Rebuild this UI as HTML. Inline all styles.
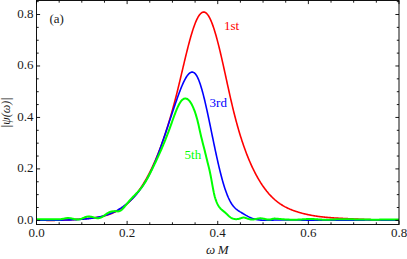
<!DOCTYPE html>
<html><head><meta charset="utf-8"><style>html,body{margin:0;padding:0;background:#fff;}.t,.t text{font-family:"Liberation Serif",serif;}body{width:407px;height:259px;overflow:hidden;position:relative;font-family:"Liberation Serif",serif;}</style></head><body>
<svg width="407" height="259" viewBox="0 0 407 259" style="position:absolute;left:0;top:0">
<rect x="0" y="0" width="407" height="259" fill="#fff"/>
<path d="M36.50,220.06 L36.95,220.08 L37.41,220.10 L37.86,220.11 L38.31,220.13 L38.77,220.15 L39.22,220.16 L39.68,220.18 L40.13,220.19 L40.58,220.21 L41.04,220.22 L41.49,220.23 L41.94,220.25 L42.40,220.26 L42.85,220.27 L43.31,220.28 L43.76,220.29 L44.21,220.30 L44.67,220.30 L45.12,220.31 L45.57,220.32 L46.03,220.32 L46.48,220.33 L46.93,220.34 L47.39,220.34 L47.84,220.34 L48.30,220.35 L48.75,220.35 L49.20,220.35 L49.66,220.35 L50.11,220.35 L50.56,220.35 L51.02,220.35 L51.47,220.35 L51.93,220.35 L52.38,220.35 L52.83,220.34 L53.29,220.34 L53.74,220.34 L54.19,220.33 L54.65,220.33 L55.10,220.32 L55.56,220.32 L56.01,220.31 L56.46,220.30 L56.92,220.29 L57.37,220.28 L57.82,220.27 L58.28,220.26 L58.73,220.25 L59.18,220.24 L59.64,220.23 L60.09,220.22 L60.55,220.21 L61.00,220.19 L61.45,220.18 L61.91,220.17 L62.36,220.15 L62.81,220.13 L63.27,220.12 L63.72,220.10 L64.18,220.08 L64.63,220.07 L65.08,220.05 L65.54,220.03 L65.99,220.01 L66.44,219.99 L66.90,219.97 L67.35,219.95 L67.80,219.93 L68.26,219.91 L68.71,219.88 L69.17,219.86 L69.62,219.84 L70.07,219.81 L70.53,219.79 L70.98,219.76 L71.43,219.74 L71.89,219.71 L72.34,219.68 L72.80,219.66 L73.25,219.63 L73.70,219.60 L74.16,219.57 L74.61,219.54 L75.06,219.51 L75.52,219.48 L75.97,219.45 L76.42,219.42 L76.88,219.39 L77.33,219.36 L77.79,219.32 L78.24,219.29 L78.69,219.25 L79.15,219.22 L79.60,219.19 L80.05,219.15 L80.51,219.11 L80.96,219.08 L81.42,219.04 L81.87,219.00 L82.32,218.97 L82.78,218.93 L83.23,218.89 L83.68,218.85 L84.14,218.81 L84.59,218.77 L85.05,218.73 L85.50,218.69 L85.95,218.65 L86.41,218.61 L86.86,218.56 L87.31,218.52 L87.77,218.48 L88.22,218.43 L88.67,218.39 L89.13,218.34 L89.58,218.30 L90.04,218.25 L90.49,218.20 L90.94,218.15 L91.40,218.10 L91.85,218.05 L92.30,218.00 L92.76,217.95 L93.21,217.89 L93.67,217.84 L94.12,217.78 L94.57,217.72 L95.03,217.66 L95.48,217.59 L95.93,217.53 L96.39,217.46 L96.84,217.39 L97.29,217.32 L97.75,217.25 L98.20,217.17 L98.66,217.09 L99.11,217.01 L99.56,216.93 L100.02,216.84 L100.47,216.75 L100.92,216.66 L101.38,216.57 L101.83,216.47 L102.29,216.37 L102.74,216.26 L103.19,216.16 L103.65,216.05 L104.10,215.93 L104.55,215.81 L105.01,215.69 L105.46,215.57 L105.91,215.44 L106.37,215.31 L106.82,215.17 L107.28,215.03 L107.73,214.89 L108.18,214.74 L108.64,214.59 L109.09,214.43 L109.54,214.27 L110.00,214.10 L110.45,213.93 L110.91,213.76 L111.36,213.58 L111.81,213.39 L112.27,213.20 L112.72,213.01 L113.17,212.81 L113.63,212.60 L114.08,212.39 L114.54,212.18 L114.99,211.96 L115.44,211.73 L115.90,211.50 L116.35,211.26 L116.80,211.02 L117.26,210.77 L117.71,210.51 L118.16,210.25 L118.62,209.98 L119.07,209.71 L119.53,209.43 L119.98,209.15 L120.43,208.85 L120.89,208.55 L121.34,208.25 L121.79,207.94 L122.25,207.62 L122.70,207.29 L123.16,206.96 L123.61,206.62 L124.06,206.27 L124.52,205.92 L124.97,205.56 L125.42,205.19 L125.88,204.82 L126.33,204.43 L126.78,204.04 L127.24,203.64 L127.69,203.24 L128.15,202.82 L128.60,202.40 L129.05,201.97 L129.51,201.53 L129.96,201.09 L130.41,200.63 L130.87,200.17 L131.32,199.70 L131.78,199.22 L132.23,198.73 L132.68,198.24 L133.14,197.73 L133.59,197.22 L134.04,196.69 L134.50,196.16 L134.95,195.62 L135.40,195.07 L135.86,194.51 L136.31,193.94 L136.77,193.36 L137.22,192.78 L137.67,192.18 L138.13,191.57 L138.58,190.95 L139.03,190.33 L139.49,189.69 L139.94,189.04 L140.40,188.38 L140.85,187.72 L141.30,187.04 L141.76,186.35 L142.21,185.65 L142.66,184.94 L143.12,184.22 L143.57,183.48 L144.03,182.74 L144.48,181.99 L144.93,181.22 L145.39,180.44 L145.84,179.66 L146.29,178.86 L146.75,178.04 L147.20,177.22 L147.65,176.39 L148.11,175.54 L148.56,174.68 L149.02,173.81 L149.47,172.93 L149.92,172.03 L150.38,171.12 L150.83,170.20 L151.28,169.27 L151.74,168.32 L152.19,167.36 L152.65,166.39 L153.10,165.41 L153.55,164.41 L154.01,163.40 L154.46,162.38 L154.91,161.34 L155.37,160.29 L155.82,159.22 L156.27,158.14 L156.73,157.05 L157.18,155.95 L157.64,154.83 L158.09,153.69 L158.54,152.55 L159.00,151.38 L159.45,150.21 L159.90,149.02 L160.36,147.81 L160.81,146.59 L161.27,145.36 L161.72,144.11 L162.17,142.84 L162.63,141.56 L163.08,140.27 L163.53,138.96 L163.99,137.63 L164.44,136.29 L164.89,134.93 L165.35,133.56 L165.80,132.17 L166.26,130.77 L166.71,129.35 L167.16,127.92 L167.62,126.46 L168.07,125.00 L168.52,123.51 L168.98,122.01 L169.43,120.49 L169.89,118.96 L170.34,117.41 L170.79,115.84 L171.25,114.26 L171.70,112.66 L172.15,111.04 L172.61,109.41 L173.06,107.75 L173.52,106.08 L173.97,104.40 L174.42,102.69 L174.88,100.97 L175.33,99.23 L175.78,97.47 L176.24,95.69 L176.69,93.90 L177.14,92.09 L177.60,90.26 L178.05,88.41 L178.51,86.54 L178.96,84.66 L179.41,82.77 L179.87,80.87 L180.32,78.96 L180.77,77.04 L181.23,75.12 L181.68,73.19 L182.14,71.27 L182.59,69.34 L183.04,67.42 L183.50,65.50 L183.95,63.58 L184.40,61.67 L184.86,59.78 L185.31,57.89 L185.76,56.02 L186.22,54.16 L186.67,52.32 L187.13,50.50 L187.58,48.70 L188.03,46.92 L188.49,45.17 L188.94,43.44 L189.39,41.74 L189.85,40.07 L190.30,38.44 L190.76,36.83 L191.21,35.26 L191.66,33.73 L192.12,32.24 L192.57,30.79 L193.02,29.38 L193.48,28.01 L193.93,26.70 L194.38,25.43 L194.84,24.21 L195.29,23.04 L195.75,21.93 L196.20,20.87 L196.65,19.87 L197.11,18.92 L197.56,18.04 L198.01,17.21 L198.47,16.44 L198.92,15.73 L199.38,15.08 L199.83,14.50 L200.28,13.97 L200.74,13.51 L201.19,13.11 L201.64,12.77 L202.10,12.50 L202.55,12.30 L203.01,12.16 L203.46,12.08 L203.91,12.07 L204.37,12.14 L204.82,12.26 L205.27,12.46 L205.73,12.73 L206.18,13.07 L206.63,13.47 L207.09,13.95 L207.54,14.50 L208.00,15.11 L208.45,15.78 L208.90,16.52 L209.36,17.32 L209.81,18.19 L210.26,19.11 L210.72,20.10 L211.17,21.14 L211.63,22.24 L212.08,23.39 L212.53,24.60 L212.99,25.86 L213.44,27.17 L213.89,28.53 L214.35,29.94 L214.80,31.40 L215.25,32.91 L215.71,34.46 L216.16,36.05 L216.62,37.69 L217.07,39.36 L217.52,41.08 L217.98,42.83 L218.43,44.61 L218.88,46.42 L219.34,48.27 L219.79,50.14 L220.25,52.04 L220.70,53.97 L221.15,55.92 L221.61,57.89 L222.06,59.87 L222.51,61.88 L222.97,63.90 L223.42,65.93 L223.87,67.98 L224.33,70.04 L224.78,72.10 L225.24,74.17 L225.69,76.24 L226.14,78.32 L226.60,80.40 L227.05,82.47 L227.50,84.55 L227.96,86.61 L228.41,88.68 L228.87,90.73 L229.32,92.77 L229.77,94.80 L230.23,96.81 L230.68,98.81 L231.13,100.79 L231.59,102.75 L232.04,104.69 L232.49,106.61 L232.95,108.49 L233.40,110.36 L233.86,112.19 L234.31,114.00 L234.76,115.78 L235.22,117.54 L235.67,119.27 L236.12,120.97 L236.58,122.65 L237.03,124.30 L237.49,125.93 L237.94,127.53 L238.39,129.11 L238.85,130.66 L239.30,132.19 L239.75,133.70 L240.21,135.18 L240.66,136.65 L241.12,138.08 L241.57,139.50 L242.02,140.89 L242.48,142.27 L242.93,143.62 L243.38,144.95 L243.84,146.26 L244.29,147.54 L244.74,148.81 L245.20,150.06 L245.65,151.29 L246.11,152.50 L246.56,153.69 L247.01,154.86 L247.47,156.01 L247.92,157.14 L248.37,158.26 L248.83,159.36 L249.28,160.44 L249.74,161.50 L250.19,162.55 L250.64,163.58 L251.10,164.60 L251.55,165.59 L252.00,166.58 L252.46,167.55 L252.91,168.50 L253.36,169.44 L253.82,170.36 L254.27,171.27 L254.73,172.16 L255.18,173.05 L255.63,173.91 L256.09,174.77 L256.54,175.61 L256.99,176.44 L257.45,177.25 L257.90,178.05 L258.36,178.84 L258.81,179.61 L259.26,180.37 L259.72,181.12 L260.17,181.86 L260.62,182.59 L261.08,183.30 L261.53,184.00 L261.98,184.69 L262.44,185.36 L262.89,186.03 L263.35,186.68 L263.80,187.32 L264.25,187.95 L264.71,188.57 L265.16,189.18 L265.61,189.77 L266.07,190.36 L266.52,190.94 L266.98,191.50 L267.43,192.05 L267.88,192.60 L268.34,193.13 L268.79,193.65 L269.24,194.17 L269.70,194.67 L270.15,195.17 L270.61,195.65 L271.06,196.13 L271.51,196.59 L271.97,197.05 L272.42,197.49 L272.87,197.93 L273.33,198.36 L273.78,198.78 L274.23,199.20 L274.69,199.60 L275.14,200.00 L275.60,200.38 L276.05,200.76 L276.50,201.13 L276.96,201.50 L277.41,201.85 L277.86,202.20 L278.32,202.54 L278.77,202.88 L279.23,203.20 L279.68,203.52 L280.13,203.84 L280.59,204.14 L281.04,204.44 L281.49,204.73 L281.95,205.02 L282.40,205.30 L282.85,205.57 L283.31,205.84 L283.76,206.10 L284.22,206.36 L284.67,206.61 L285.12,206.86 L285.58,207.10 L286.03,207.33 L286.48,207.56 L286.94,207.78 L287.39,208.00 L287.85,208.22 L288.30,208.43 L288.75,208.63 L289.21,208.84 L289.66,209.03 L290.11,209.23 L290.57,209.42 L291.02,209.60 L291.47,209.78 L291.93,209.96 L292.38,210.13 L292.84,210.31 L293.29,210.47 L293.74,210.64 L294.20,210.80 L294.65,210.96 L295.10,211.12 L295.56,211.27 L296.01,211.42 L296.47,211.57 L296.92,211.72 L297.37,211.86 L297.83,212.00 L298.28,212.14 L298.73,212.28 L299.19,212.42 L299.64,212.55 L300.10,212.68 L300.55,212.81 L301.00,212.94 L301.46,213.06 L301.91,213.18 L302.36,213.31 L302.82,213.42 L303.27,213.54 L303.72,213.66 L304.18,213.77 L304.63,213.88 L305.09,213.99 L305.54,214.09 L305.99,214.20 L306.45,214.30 L306.90,214.40 L307.35,214.50 L307.81,214.60 L308.26,214.70 L308.72,214.79 L309.17,214.89 L309.62,214.98 L310.08,215.07 L310.53,215.15 L310.98,215.24 L311.44,215.32 L311.89,215.41 L312.34,215.49 L312.80,215.57 L313.25,215.64 L313.71,215.72 L314.16,215.80 L314.61,215.87 L315.07,215.94 L315.52,216.01 L315.97,216.08 L316.43,216.15 L316.88,216.21 L317.34,216.28 L317.79,216.34 L318.24,216.41 L318.70,216.47 L319.15,216.53 L319.60,216.58 L320.06,216.64 L320.51,216.70 L320.96,216.75 L321.42,216.81 L321.87,216.86 L322.33,216.91 L322.78,216.96 L323.23,217.01 L323.69,217.06 L324.14,217.11 L324.59,217.15 L325.05,217.20 L325.50,217.24 L325.96,217.29 L326.41,217.33 L326.86,217.37 L327.32,217.41 L327.77,217.45 L328.22,217.49 L328.68,217.53 L329.13,217.56 L329.59,217.60 L330.04,217.64 L330.49,217.67 L330.95,217.71 L331.40,217.74 L331.85,217.77 L332.31,217.80 L332.76,217.84 L333.21,217.87 L333.67,217.90 L334.12,217.93 L334.58,217.96 L335.03,217.99 L335.48,218.01 L335.94,218.04 L336.39,218.07 L336.84,218.10 L337.30,218.12 L337.75,218.15 L338.21,218.17 L338.66,218.20 L339.11,218.22 L339.57,218.25 L340.02,218.27 L340.47,218.30 L340.93,218.32 L341.38,218.34 L341.83,218.37 L342.29,218.39 L342.74,218.41 L343.20,218.44 L343.65,218.46 L344.10,218.48 L344.56,218.50 L345.01,218.53 L345.46,218.55 L345.92,218.57 L346.37,218.59 L346.83,218.62 L347.28,218.64 L347.73,218.66 L348.19,218.68 L348.64,218.71 L349.09,218.73 L349.55,218.75 L350.00,218.77 L350.45,218.79 L350.91,218.82 L351.36,218.84 L351.82,218.86 L352.27,218.88 L352.72,218.90 L353.18,218.92 L353.63,218.95 L354.08,218.97 L354.54,218.99 L354.99,219.01 L355.45,219.03 L355.90,219.05 L356.35,219.07 L356.81,219.09 L357.26,219.11 L357.71,219.14 L358.17,219.16 L358.62,219.18 L359.08,219.20 L359.53,219.22 L359.98,219.24 L360.44,219.26 L360.89,219.28 L361.34,219.30 L361.80,219.31 L362.25,219.33 L362.70,219.35 L363.16,219.37 L363.61,219.39 L364.07,219.41 L364.52,219.43 L364.97,219.45 L365.43,219.46 L365.88,219.48 L366.33,219.50 L366.79,219.52 L367.24,219.53 L367.70,219.55 L368.15,219.57 L368.60,219.58 L369.06,219.60 L369.51,219.62 L369.96,219.63 L370.42,219.65 L370.87,219.66 L371.32,219.68 L371.78,219.70 L372.23,219.71 L372.69,219.72 L373.14,219.74 L373.59,219.75 L374.05,219.77 L374.50,219.78 L374.95,219.79 L375.41,219.81 L375.86,219.82 L376.32,219.83 L376.77,219.85 L377.22,219.86 L377.68,219.87 L378.13,219.88 L378.58,219.89 L379.04,219.90 L379.49,219.91 L379.94,219.92 L380.40,219.93 L380.85,219.94 L381.31,219.95 L381.76,219.96 L382.21,219.97 L382.67,219.98 L383.12,219.99 L383.57,220.00 L384.03,220.00 L384.48,220.01 L384.94,220.02 L385.39,220.02 L385.84,220.03 L386.30,220.04 L386.75,220.04 L387.20,220.05 L387.66,220.05 L388.11,220.06 L388.57,220.06 L389.02,220.06 L389.47,220.07 L389.93,220.07 L390.38,220.07 L390.83,220.07 L391.29,220.08 L391.74,220.08 L392.19,220.08 L392.65,220.08 L393.10,220.08 L393.56,220.08 L394.01,220.08 L394.46,220.08 L394.92,220.08 L395.37,220.07 L395.82,220.07 L396.28,220.07 L396.73,220.07 L397.19,220.06 L397.64,220.06 L398.09,220.05 L398.55,220.05 L399.00,220.04" fill="none" stroke="#ff0000" stroke-width="1.6" stroke-linejoin="round"/>
<path d="M36.50,220.31 L36.95,220.31 L37.41,220.30 L37.86,220.29 L38.31,220.29 L38.77,220.28 L39.22,220.28 L39.68,220.27 L40.13,220.27 L40.58,220.26 L41.04,220.26 L41.49,220.26 L41.94,220.25 L42.40,220.25 L42.85,220.25 L43.31,220.24 L43.76,220.24 L44.21,220.24 L44.67,220.23 L45.12,220.23 L45.57,220.23 L46.03,220.23 L46.48,220.22 L46.93,220.22 L47.39,220.22 L47.84,220.22 L48.30,220.21 L48.75,220.21 L49.20,220.21 L49.66,220.21 L50.11,220.20 L50.56,220.20 L51.02,220.20 L51.47,220.19 L51.93,220.19 L52.38,220.19 L52.83,220.19 L53.29,220.18 L53.74,220.18 L54.19,220.18 L54.65,220.17 L55.10,220.17 L55.56,220.16 L56.01,220.16 L56.46,220.16 L56.92,220.15 L57.37,220.15 L57.82,220.14 L58.28,220.14 L58.73,220.13 L59.18,220.13 L59.64,220.12 L60.09,220.11 L60.55,220.11 L61.00,220.10 L61.45,220.09 L61.91,220.08 L62.36,220.08 L62.81,220.07 L63.27,220.06 L63.72,220.05 L64.18,220.04 L64.63,220.03 L65.08,220.02 L65.54,220.01 L65.99,220.00 L66.44,219.99 L66.90,219.98 L67.35,219.96 L67.80,219.95 L68.26,219.94 L68.71,219.92 L69.17,219.91 L69.62,219.89 L70.07,219.88 L70.53,219.86 L70.98,219.84 L71.43,219.83 L71.89,219.81 L72.34,219.79 L72.80,219.77 L73.25,219.75 L73.70,219.73 L74.16,219.71 L74.61,219.69 L75.06,219.66 L75.52,219.64 L75.97,219.62 L76.42,219.59 L76.88,219.57 L77.33,219.54 L77.79,219.51 L78.24,219.49 L78.69,219.46 L79.15,219.43 L79.60,219.40 L80.05,219.37 L80.51,219.34 L80.96,219.30 L81.42,219.27 L81.87,219.24 L82.32,219.20 L82.78,219.17 L83.23,219.13 L83.68,219.09 L84.14,219.05 L84.59,219.01 L85.05,218.97 L85.50,218.93 L85.95,218.89 L86.41,218.85 L86.86,218.80 L87.31,218.76 L87.77,218.71 L88.22,218.66 L88.67,218.61 L89.13,218.56 L89.58,218.51 L90.04,218.46 L90.49,218.40 L90.94,218.35 L91.40,218.29 L91.85,218.23 L92.30,218.17 L92.76,218.11 L93.21,218.04 L93.67,217.97 L94.12,217.90 L94.57,217.83 L95.03,217.76 L95.48,217.69 L95.93,217.61 L96.39,217.53 L96.84,217.45 L97.29,217.36 L97.75,217.27 L98.20,217.18 L98.66,217.09 L99.11,217.00 L99.56,216.90 L100.02,216.80 L100.47,216.70 L100.92,216.59 L101.38,216.48 L101.83,216.37 L102.29,216.25 L102.74,216.14 L103.19,216.01 L103.65,215.89 L104.10,215.76 L104.55,215.63 L105.01,215.50 L105.46,215.36 L105.91,215.22 L106.37,215.07 L106.82,214.92 L107.28,214.77 L107.73,214.61 L108.18,214.45 L108.64,214.29 L109.09,214.12 L109.54,213.94 L110.00,213.77 L110.45,213.59 L110.91,213.40 L111.36,213.21 L111.81,213.02 L112.27,212.82 L112.72,212.62 L113.17,212.41 L113.63,212.20 L114.08,211.98 L114.54,211.76 L114.99,211.54 L115.44,211.30 L115.90,211.07 L116.35,210.83 L116.80,210.58 L117.26,210.33 L117.71,210.08 L118.16,209.82 L118.62,209.55 L119.07,209.28 L119.53,209.00 L119.98,208.72 L120.43,208.43 L120.89,208.14 L121.34,207.84 L121.79,207.53 L122.25,207.22 L122.70,206.91 L123.16,206.59 L123.61,206.26 L124.06,205.92 L124.52,205.58 L124.97,205.24 L125.42,204.89 L125.88,204.53 L126.33,204.16 L126.78,203.79 L127.24,203.41 L127.69,203.03 L128.15,202.64 L128.60,202.24 L129.05,201.84 L129.51,201.43 L129.96,201.01 L130.41,200.59 L130.87,200.16 L131.32,199.72 L131.78,199.27 L132.23,198.82 L132.68,198.36 L133.14,197.90 L133.59,197.42 L134.04,196.94 L134.50,196.45 L134.95,195.96 L135.40,195.45 L135.86,194.93 L136.31,194.41 L136.77,193.88 L137.22,193.34 L137.67,192.78 L138.13,192.22 L138.58,191.65 L139.03,191.07 L139.49,190.47 L139.94,189.87 L140.40,189.25 L140.85,188.63 L141.30,187.99 L141.76,187.34 L142.21,186.68 L142.66,186.00 L143.12,185.32 L143.57,184.62 L144.03,183.91 L144.48,183.18 L144.93,182.44 L145.39,181.69 L145.84,180.92 L146.29,180.14 L146.75,179.34 L147.20,178.53 L147.65,177.71 L148.11,176.87 L148.56,176.01 L149.02,175.14 L149.47,174.25 L149.92,173.35 L150.38,172.43 L150.83,171.49 L151.28,170.54 L151.74,169.57 L152.19,168.58 L152.65,167.57 L153.10,166.55 L153.55,165.51 L154.01,164.45 L154.46,163.37 L154.91,162.28 L155.37,161.17 L155.82,160.04 L156.27,158.89 L156.73,157.74 L157.18,156.56 L157.64,155.38 L158.09,154.18 L158.54,152.96 L159.00,151.74 L159.45,150.50 L159.90,149.25 L160.36,147.99 L160.81,146.72 L161.27,145.44 L161.72,144.15 L162.17,142.86 L162.63,141.55 L163.08,140.24 L163.53,138.92 L163.99,137.59 L164.44,136.26 L164.89,134.92 L165.35,133.57 L165.80,132.23 L166.26,130.87 L166.71,129.52 L167.16,128.16 L167.62,126.80 L168.07,125.43 L168.52,124.07 L168.98,122.71 L169.43,121.34 L169.89,119.97 L170.34,118.61 L170.79,117.25 L171.25,115.89 L171.70,114.53 L172.15,113.17 L172.61,111.82 L173.06,110.47 L173.52,109.13 L173.97,107.79 L174.42,106.45 L174.88,105.13 L175.33,103.80 L175.78,102.49 L176.24,101.18 L176.69,99.89 L177.14,98.60 L177.60,97.32 L178.05,96.05 L178.51,94.80 L178.96,93.56 L179.41,92.34 L179.87,91.14 L180.32,89.95 L180.77,88.79 L181.23,87.66 L181.68,86.55 L182.14,85.47 L182.59,84.41 L183.04,83.39 L183.50,82.40 L183.95,81.45 L184.40,80.53 L184.86,79.65 L185.31,78.80 L185.76,78.00 L186.22,77.25 L186.67,76.53 L187.13,75.87 L187.58,75.25 L188.03,74.68 L188.49,74.17 L188.94,73.71 L189.39,73.30 L189.85,72.95 L190.30,72.66 L190.76,72.43 L191.21,72.26 L191.66,72.15 L192.12,72.11 L192.57,72.14 L193.02,72.24 L193.48,72.40 L193.93,72.64 L194.38,72.96 L194.84,73.35 L195.29,73.82 L195.75,74.36 L196.20,74.99 L196.65,75.70 L197.11,76.50 L197.56,77.38 L198.01,78.35 L198.47,79.39 L198.92,80.51 L199.38,81.71 L199.83,82.98 L200.28,84.32 L200.74,85.72 L201.19,87.19 L201.64,88.72 L202.10,90.31 L202.55,91.95 L203.01,93.65 L203.46,95.40 L203.91,97.20 L204.37,99.04 L204.82,100.93 L205.27,102.86 L205.73,104.82 L206.18,106.82 L206.63,108.85 L207.09,110.91 L207.54,113.00 L208.00,115.11 L208.45,117.25 L208.90,119.40 L209.36,121.57 L209.81,123.76 L210.26,125.95 L210.72,128.15 L211.17,130.36 L211.63,132.58 L212.08,134.79 L212.53,137.00 L212.99,139.20 L213.44,141.40 L213.89,143.59 L214.35,145.77 L214.80,147.93 L215.25,150.07 L215.71,152.19 L216.16,154.29 L216.62,156.37 L217.07,158.42 L217.52,160.45 L217.98,162.45 L218.43,164.42 L218.88,166.36 L219.34,168.26 L219.79,170.14 L220.25,171.98 L220.70,173.78 L221.15,175.55 L221.61,177.27 L222.06,178.96 L222.51,180.60 L222.97,182.20 L223.42,183.76 L223.87,185.27 L224.33,186.73 L224.78,188.14 L225.24,189.51 L225.69,190.83 L226.14,192.10 L226.60,193.32 L227.05,194.50 L227.50,195.63 L227.96,196.72 L228.41,197.76 L228.87,198.76 L229.32,199.70 L229.77,200.61 L230.23,201.47 L230.68,202.28 L231.13,203.05 L231.59,203.78 L232.04,204.46 L232.49,205.10 L232.95,205.70 L233.40,206.27 L233.86,206.80 L234.31,207.30 L234.76,207.77 L235.22,208.21 L235.67,208.63 L236.12,209.02 L236.58,209.39 L237.03,209.74 L237.49,210.08 L237.94,210.41 L238.39,210.72 L238.85,211.02 L239.30,211.31 L239.75,211.60 L240.21,211.88 L240.66,212.15 L241.12,212.42 L241.57,212.70 L242.02,212.97 L242.48,213.24 L242.93,213.51 L243.38,213.79 L243.84,214.06 L244.29,214.33 L244.74,214.60 L245.20,214.87 L245.65,215.14 L246.11,215.40 L246.56,215.66 L247.01,215.91 L247.47,216.16 L247.92,216.41 L248.37,216.64 L248.83,216.88 L249.28,217.10 L249.74,217.32 L250.19,217.52 L250.64,217.72 L251.10,217.91 L251.55,218.09 L252.00,218.26 L252.46,218.42 L252.91,218.58 L253.36,218.72 L253.82,218.86 L254.27,218.99 L254.73,219.11 L255.18,219.22 L255.63,219.33 L256.09,219.43 L256.54,219.52 L256.99,219.61 L257.45,219.69 L257.90,219.76 L258.36,219.83 L258.81,219.89 L259.26,219.95 L259.72,220.00 L260.17,220.04 L260.62,220.08 L261.08,220.12 L261.53,220.15 L261.98,220.18 L262.44,220.20 L262.89,220.22 L263.35,220.23 L263.80,220.25 L264.25,220.25 L264.71,220.26 L265.16,220.26 L265.61,220.26 L266.07,220.26 L266.52,220.26 L266.98,220.25 L267.43,220.24 L267.88,220.23 L268.34,220.22 L268.79,220.21 L269.24,220.20 L269.70,220.19 L270.15,220.17 L270.61,220.16 L271.06,220.15 L271.51,220.13 L271.97,220.12 L272.42,220.11 L272.87,220.10 L273.33,220.08 L273.78,220.07 L274.23,220.06 L274.69,220.05 L275.14,220.05 L275.60,220.04 L276.05,220.03 L276.50,220.02 L276.96,220.02 L277.41,220.01 L277.86,220.00 L278.32,220.00 L278.77,219.99 L279.23,219.99 L279.68,219.99 L280.13,219.98 L280.59,219.98 L281.04,219.98 L281.49,219.98 L281.95,219.97 L282.40,219.97 L282.85,219.97 L283.31,219.97 L283.76,219.97 L284.22,219.97 L284.67,219.97 L285.12,219.97 L285.58,219.97 L286.03,219.97 L286.48,219.98 L286.94,219.98 L287.39,219.98 L287.85,219.98 L288.30,219.98 L288.75,219.99 L289.21,219.99 L289.66,219.99 L290.11,219.99 L290.57,220.00 L291.02,220.00 L291.47,220.00 L291.93,220.01 L292.38,220.01 L292.84,220.01 L293.29,220.02 L293.74,220.02 L294.20,220.03 L294.65,220.03 L295.10,220.03 L295.56,220.04 L296.01,220.04 L296.47,220.04 L296.92,220.05 L297.37,220.05 L297.83,220.05 L298.28,220.06 L298.73,220.06 L299.19,220.06 L299.64,220.07 L300.10,220.07 L300.55,220.07 L301.00,220.08 L301.46,220.08 L301.91,220.08 L302.36,220.08 L302.82,220.09 L303.27,220.09 L303.72,220.09 L304.18,220.09 L304.63,220.10 L305.09,220.10 L305.54,220.10 L305.99,220.10 L306.45,220.11 L306.90,220.11 L307.35,220.11 L307.81,220.11 L308.26,220.11 L308.72,220.12 L309.17,220.12 L309.62,220.12 L310.08,220.12 L310.53,220.12 L310.98,220.12 L311.44,220.12 L311.89,220.13 L312.34,220.13 L312.80,220.13 L313.25,220.13 L313.71,220.13 L314.16,220.13 L314.61,220.13 L315.07,220.13 L315.52,220.13 L315.97,220.14 L316.43,220.14 L316.88,220.14 L317.34,220.14 L317.79,220.14 L318.24,220.14 L318.70,220.14 L319.15,220.14 L319.60,220.14 L320.06,220.14 L320.51,220.14 L320.96,220.14 L321.42,220.14 L321.87,220.14 L322.33,220.14 L322.78,220.14 L323.23,220.14 L323.69,220.14 L324.14,220.14 L324.59,220.14 L325.05,220.14 L325.50,220.14 L325.96,220.14 L326.41,220.14 L326.86,220.14 L327.32,220.14 L327.77,220.14 L328.22,220.14 L328.68,220.14 L329.13,220.14 L329.59,220.14 L330.04,220.14 L330.49,220.14 L330.95,220.14 L331.40,220.14 L331.85,220.14 L332.31,220.14 L332.76,220.14 L333.21,220.14 L333.67,220.14 L334.12,220.13 L334.58,220.13 L335.03,220.13 L335.48,220.13 L335.94,220.13 L336.39,220.13 L336.84,220.13 L337.30,220.13 L337.75,220.13 L338.21,220.13 L338.66,220.13 L339.11,220.13 L339.57,220.13 L340.02,220.12 L340.47,220.12 L340.93,220.12 L341.38,220.12 L341.83,220.12 L342.29,220.12 L342.74,220.12 L343.20,220.12 L343.65,220.12 L344.10,220.12 L344.56,220.12 L345.01,220.11 L345.46,220.11 L345.92,220.11 L346.37,220.11 L346.83,220.11 L347.28,220.11 L347.73,220.11 L348.19,220.11 L348.64,220.11 L349.09,220.11 L349.55,220.10 L350.00,220.10 L350.45,220.10 L350.91,220.10 L351.36,220.10 L351.82,220.10 L352.27,220.10 L352.72,220.10 L353.18,220.10 L353.63,220.10 L354.08,220.09 L354.54,220.09 L354.99,220.09 L355.45,220.09 L355.90,220.09 L356.35,220.09 L356.81,220.09 L357.26,220.09 L357.71,220.09 L358.17,220.09 L358.62,220.09 L359.08,220.08 L359.53,220.08 L359.98,220.08 L360.44,220.08 L360.89,220.08 L361.34,220.08 L361.80,220.08 L362.25,220.08 L362.70,220.08 L363.16,220.08 L363.61,220.08 L364.07,220.08 L364.52,220.08 L364.97,220.07 L365.43,220.07 L365.88,220.07 L366.33,220.07 L366.79,220.07 L367.24,220.07 L367.70,220.07 L368.15,220.07 L368.60,220.07 L369.06,220.07 L369.51,220.07 L369.96,220.07 L370.42,220.07 L370.87,220.07 L371.32,220.07 L371.78,220.07 L372.23,220.07 L372.69,220.07 L373.14,220.07 L373.59,220.07 L374.05,220.07 L374.50,220.07 L374.95,220.07 L375.41,220.07 L375.86,220.07 L376.32,220.07 L376.77,220.07 L377.22,220.07 L377.68,220.07 L378.13,220.07 L378.58,220.07 L379.04,220.07 L379.49,220.07 L379.94,220.07 L380.40,220.07 L380.85,220.08 L381.31,220.08 L381.76,220.08 L382.21,220.08 L382.67,220.08 L383.12,220.08 L383.57,220.08 L384.03,220.08 L384.48,220.08 L384.94,220.08 L385.39,220.09 L385.84,220.09 L386.30,220.09 L386.75,220.09 L387.20,220.09 L387.66,220.09 L388.11,220.09 L388.57,220.10 L389.02,220.10 L389.47,220.10 L389.93,220.10 L390.38,220.10 L390.83,220.11 L391.29,220.11 L391.74,220.11 L392.19,220.11 L392.65,220.11 L393.10,220.12 L393.56,220.12 L394.01,220.12 L394.46,220.12 L394.92,220.13 L395.37,220.13 L395.82,220.13 L396.28,220.13 L396.73,220.14 L397.19,220.14 L397.64,220.14 L398.09,220.15 L398.55,220.15 L399.00,220.15" fill="none" stroke="#0000ff" stroke-width="1.6" stroke-linejoin="round"/>
<path d="M36.50,219.26 L36.95,219.27 L37.41,219.28 L37.86,219.29 L38.31,219.29 L38.77,219.30 L39.22,219.30 L39.68,219.30 L40.13,219.29 L40.58,219.29 L41.04,219.28 L41.49,219.27 L41.94,219.26 L42.40,219.25 L42.85,219.24 L43.31,219.23 L43.76,219.22 L44.21,219.21 L44.67,219.20 L45.12,219.18 L45.57,219.17 L46.03,219.16 L46.48,219.16 L46.93,219.15 L47.39,219.14 L47.84,219.14 L48.30,219.14 L48.75,219.14 L49.20,219.14 L49.66,219.15 L50.11,219.16 L50.56,219.17 L51.02,219.18 L51.47,219.20 L51.93,219.22 L52.38,219.23 L52.83,219.25 L53.29,219.27 L53.74,219.29 L54.19,219.31 L54.65,219.32 L55.10,219.34 L55.56,219.35 L56.01,219.36 L56.46,219.36 L56.92,219.37 L57.37,219.36 L57.82,219.36 L58.28,219.35 L58.73,219.33 L59.18,219.31 L59.64,219.28 L60.09,219.24 L60.55,219.19 L61.00,219.14 L61.45,219.08 L61.91,219.01 L62.36,218.93 L62.81,218.84 L63.27,218.75 L63.72,218.65 L64.18,218.56 L64.63,218.46 L65.08,218.37 L65.54,218.29 L65.99,218.21 L66.44,218.14 L66.90,218.09 L67.35,218.05 L67.80,218.02 L68.26,218.02 L68.71,218.04 L69.17,218.07 L69.62,218.12 L70.07,218.18 L70.53,218.26 L70.98,218.34 L71.43,218.43 L71.89,218.53 L72.34,218.63 L72.80,218.74 L73.25,218.84 L73.70,218.94 L74.16,219.04 L74.61,219.13 L75.06,219.22 L75.52,219.29 L75.97,219.36 L76.42,219.41 L76.88,219.45 L77.33,219.48 L77.79,219.48 L78.24,219.47 L78.69,219.44 L79.15,219.39 L79.60,219.31 L80.05,219.21 L80.51,219.08 L80.96,218.93 L81.42,218.77 L81.87,218.58 L82.32,218.39 L82.78,218.19 L83.23,217.99 L83.68,217.79 L84.14,217.59 L84.59,217.40 L85.05,217.22 L85.50,217.06 L85.95,216.91 L86.41,216.79 L86.86,216.69 L87.31,216.62 L87.77,216.56 L88.22,216.53 L88.67,216.51 L89.13,216.52 L89.58,216.54 L90.04,216.58 L90.49,216.63 L90.94,216.70 L91.40,216.79 L91.85,216.89 L92.30,217.00 L92.76,217.12 L93.21,217.25 L93.67,217.39 L94.12,217.52 L94.57,217.65 L95.03,217.78 L95.48,217.89 L95.93,217.99 L96.39,218.08 L96.84,218.15 L97.29,218.19 L97.75,218.21 L98.20,218.19 L98.66,218.15 L99.11,218.08 L99.56,217.97 L100.02,217.85 L100.47,217.69 L100.92,217.51 L101.38,217.31 L101.83,217.08 L102.29,216.84 L102.74,216.57 L103.19,216.29 L103.65,215.99 L104.10,215.67 L104.55,215.34 L105.01,215.00 L105.46,214.66 L105.91,214.32 L106.37,213.98 L106.82,213.65 L107.28,213.34 L107.73,213.04 L108.18,212.77 L108.64,212.52 L109.09,212.31 L109.54,212.12 L110.00,211.96 L110.45,211.81 L110.91,211.69 L111.36,211.58 L111.81,211.49 L112.27,211.40 L112.72,211.33 L113.17,211.25 L113.63,211.18 L114.08,211.13 L114.54,211.11 L114.99,211.11 L115.44,211.14 L115.90,211.19 L116.35,211.25 L116.80,211.30 L117.26,211.35 L117.71,211.38 L118.16,211.38 L118.62,211.34 L119.07,211.25 L119.53,211.12 L119.98,210.92 L120.43,210.67 L120.89,210.37 L121.34,210.03 L121.79,209.64 L122.25,209.22 L122.70,208.76 L123.16,208.29 L123.61,207.79 L124.06,207.27 L124.52,206.74 L124.97,206.20 L125.42,205.65 L125.88,205.10 L126.33,204.54 L126.78,203.98 L127.24,203.42 L127.69,202.86 L128.15,202.30 L128.60,201.75 L129.05,201.21 L129.51,200.68 L129.96,200.16 L130.41,199.65 L130.87,199.16 L131.32,198.67 L131.78,198.18 L132.23,197.71 L132.68,197.24 L133.14,196.77 L133.59,196.31 L134.04,195.85 L134.50,195.39 L134.95,194.93 L135.40,194.47 L135.86,194.00 L136.31,193.53 L136.77,193.06 L137.22,192.58 L137.67,192.10 L138.13,191.60 L138.58,191.10 L139.03,190.59 L139.49,190.06 L139.94,189.53 L140.40,188.98 L140.85,188.41 L141.30,187.83 L141.76,187.24 L142.21,186.63 L142.66,186.00 L143.12,185.35 L143.57,184.69 L144.03,184.02 L144.48,183.32 L144.93,182.60 L145.39,181.87 L145.84,181.12 L146.29,180.34 L146.75,179.55 L147.20,178.74 L147.65,177.91 L148.11,177.07 L148.56,176.21 L149.02,175.34 L149.47,174.46 L149.92,173.57 L150.38,172.68 L150.83,171.77 L151.28,170.86 L151.74,169.95 L152.19,169.03 L152.65,168.11 L153.10,167.18 L153.55,166.25 L154.01,165.32 L154.46,164.38 L154.91,163.43 L155.37,162.48 L155.82,161.52 L156.27,160.56 L156.73,159.59 L157.18,158.62 L157.64,157.64 L158.09,156.65 L158.54,155.66 L159.00,154.66 L159.45,153.65 L159.90,152.63 L160.36,151.61 L160.81,150.58 L161.27,149.54 L161.72,148.49 L162.17,147.43 L162.63,146.37 L163.08,145.29 L163.53,144.21 L163.99,143.11 L164.44,142.01 L164.89,140.90 L165.35,139.77 L165.80,138.64 L166.26,137.49 L166.71,136.33 L167.16,135.16 L167.62,133.98 L168.07,132.78 L168.52,131.57 L168.98,130.34 L169.43,129.10 L169.89,127.85 L170.34,126.59 L170.79,125.33 L171.25,124.06 L171.70,122.80 L172.15,121.53 L172.61,120.26 L173.06,119.00 L173.52,117.75 L173.97,116.50 L174.42,115.27 L174.88,114.06 L175.33,112.87 L175.78,111.70 L176.24,110.57 L176.69,109.46 L177.14,108.39 L177.60,107.36 L178.05,106.38 L178.51,105.44 L178.96,104.55 L179.41,103.71 L179.87,102.93 L180.32,102.21 L180.77,101.56 L181.23,100.97 L181.68,100.45 L182.14,99.99 L182.59,99.59 L183.04,99.26 L183.50,98.99 L183.95,98.78 L184.40,98.63 L184.86,98.54 L185.31,98.50 L185.76,98.53 L186.22,98.62 L186.67,98.76 L187.13,98.97 L187.58,99.23 L188.03,99.55 L188.49,99.94 L188.94,100.38 L189.39,100.88 L189.85,101.44 L190.30,102.07 L190.76,102.75 L191.21,103.50 L191.66,104.31 L192.12,105.17 L192.57,106.10 L193.02,107.10 L193.48,108.15 L193.93,109.26 L194.38,110.44 L194.84,111.69 L195.29,113.00 L195.75,114.39 L196.20,115.86 L196.65,117.42 L197.11,119.06 L197.56,120.80 L198.01,122.64 L198.47,124.58 L198.92,126.61 L199.38,128.71 L199.83,130.80 L200.28,132.84 L200.74,134.80 L201.19,136.70 L201.64,138.55 L202.10,140.36 L202.55,142.15 L203.01,143.92 L203.46,145.68 L203.91,147.45 L204.37,149.24 L204.82,151.06 L205.27,152.90 L205.73,154.76 L206.18,156.63 L206.63,158.49 L207.09,160.34 L207.54,162.17 L208.00,163.97 L208.45,165.78 L208.90,167.63 L209.36,169.55 L209.81,171.59 L210.26,173.76 L210.72,176.03 L211.17,178.40 L211.63,180.85 L212.08,183.34 L212.53,185.86 L212.99,188.33 L213.44,190.71 L213.89,192.91 L214.35,194.90 L214.80,196.68 L215.25,198.27 L215.71,199.69 L216.16,200.97 L216.62,202.12 L217.07,203.16 L217.52,204.11 L217.98,204.97 L218.43,205.75 L218.88,206.46 L219.34,207.10 L219.79,207.68 L220.25,208.21 L220.70,208.70 L221.15,209.16 L221.61,209.59 L222.06,209.99 L222.51,210.38 L222.97,210.76 L223.42,211.13 L223.87,211.50 L224.33,211.87 L224.78,212.25 L225.24,212.63 L225.69,213.04 L226.14,213.46 L226.60,213.89 L227.05,214.33 L227.50,214.77 L227.96,215.21 L228.41,215.64 L228.87,216.05 L229.32,216.45 L229.77,216.82 L230.23,217.17 L230.68,217.48 L231.13,217.77 L231.59,218.02 L232.04,218.25 L232.49,218.45 L232.95,218.62 L233.40,218.76 L233.86,218.89 L234.31,218.98 L234.76,219.06 L235.22,219.11 L235.67,219.14 L236.12,219.15 L236.58,219.14 L237.03,219.11 L237.49,219.06 L237.94,219.00 L238.39,218.91 L238.85,218.82 L239.30,218.71 L239.75,218.58 L240.21,218.44 L240.66,218.29 L241.12,218.13 L241.57,217.98 L242.02,217.83 L242.48,217.71 L242.93,217.61 L243.38,217.56 L243.84,217.56 L244.29,217.61 L244.74,217.69 L245.20,217.81 L245.65,217.95 L246.11,218.10 L246.56,218.26 L247.01,218.42 L247.47,218.58 L247.92,218.73 L248.37,218.88 L248.83,219.01 L249.28,219.14 L249.74,219.25 L250.19,219.35 L250.64,219.44 L251.10,219.50 L251.55,219.55 L252.00,219.57 L252.46,219.57 L252.91,219.55 L253.36,219.51 L253.82,219.44 L254.27,219.36 L254.73,219.27 L255.18,219.17 L255.63,219.07 L256.09,218.96 L256.54,218.85 L256.99,218.75 L257.45,218.65 L257.90,218.56 L258.36,218.48 L258.81,218.42 L259.26,218.38 L259.72,218.35 L260.17,218.34 L260.62,218.34 L261.08,218.36 L261.53,218.39 L261.98,218.44 L262.44,218.50 L262.89,218.57 L263.35,218.65 L263.80,218.75 L264.25,218.85 L264.71,218.96 L265.16,219.06 L265.61,219.17 L266.07,219.27 L266.52,219.36 L266.98,219.44 L267.43,219.51 L267.88,219.57 L268.34,219.60 L268.79,219.61 L269.24,219.61 L269.70,219.58 L270.15,219.52 L270.61,219.44 L271.06,219.33 L271.51,219.21 L271.97,219.08 L272.42,218.95 L272.87,218.83 L273.33,218.73 L273.78,218.66 L274.23,218.62 L274.69,218.61 L275.14,218.62 L275.60,218.64 L276.05,218.68 L276.50,218.71 L276.96,218.75 L277.41,218.79 L277.86,218.83 L278.32,218.87 L278.77,218.91 L279.23,218.95 L279.68,218.99 L280.13,219.02 L280.59,219.06 L281.04,219.10 L281.49,219.14 L281.95,219.17 L282.40,219.21 L282.85,219.24 L283.31,219.28 L283.76,219.31 L284.22,219.34 L284.67,219.38 L285.12,219.41 L285.58,219.44 L286.03,219.46 L286.48,219.49 L286.94,219.51 L287.39,219.54 L287.85,219.56 L288.30,219.58 L288.75,219.60 L289.21,219.62 L289.66,219.63 L290.11,219.65 L290.57,219.66 L291.02,219.67 L291.47,219.68 L291.93,219.68 L292.38,219.69 L292.84,219.69 L293.29,219.69 L293.74,219.69 L294.20,219.69 L294.65,219.69 L295.10,219.68 L295.56,219.67 L296.01,219.66 L296.47,219.65 L296.92,219.64 L297.37,219.63 L297.83,219.61 L298.28,219.59 L298.73,219.57 L299.19,219.55 L299.64,219.53 L300.10,219.50 L300.55,219.48 L301.00,219.45 L301.46,219.42 L301.91,219.40 L302.36,219.37 L302.82,219.34 L303.27,219.31 L303.72,219.28 L304.18,219.25 L304.63,219.22 L305.09,219.20 L305.54,219.17 L305.99,219.15 L306.45,219.12 L306.90,219.10 L307.35,219.08 L307.81,219.06 L308.26,219.05 L308.72,219.03 L309.17,219.02 L309.62,219.01 L310.08,219.01 L310.53,219.01 L310.98,219.01 L311.44,219.02 L311.89,219.02 L312.34,219.04 L312.80,219.05 L313.25,219.07 L313.71,219.09 L314.16,219.11 L314.61,219.14 L315.07,219.16 L315.52,219.19 L315.97,219.22 L316.43,219.25 L316.88,219.28 L317.34,219.32 L317.79,219.35 L318.24,219.38 L318.70,219.41 L319.15,219.44 L319.60,219.48 L320.06,219.51 L320.51,219.54 L320.96,219.57 L321.42,219.59 L321.87,219.62 L322.33,219.64 L322.78,219.66 L323.23,219.68 L323.69,219.70 L324.14,219.71 L324.59,219.72 L325.05,219.72 L325.50,219.73 L325.96,219.73 L326.41,219.73 L326.86,219.72 L327.32,219.71 L327.77,219.70 L328.22,219.69 L328.68,219.68 L329.13,219.66 L329.59,219.65 L330.04,219.63 L330.49,219.61 L330.95,219.59 L331.40,219.57 L331.85,219.55 L332.31,219.53 L332.76,219.51 L333.21,219.48 L333.67,219.46 L334.12,219.44 L334.58,219.42 L335.03,219.40 L335.48,219.38 L335.94,219.36 L336.39,219.35 L336.84,219.33 L337.30,219.32 L337.75,219.30 L338.21,219.29 L338.66,219.28 L339.11,219.27 L339.57,219.27 L340.02,219.26 L340.47,219.25 L340.93,219.25 L341.38,219.25 L341.83,219.24 L342.29,219.24 L342.74,219.24 L343.20,219.24 L343.65,219.24 L344.10,219.25 L344.56,219.25 L345.01,219.25 L345.46,219.25 L345.92,219.26 L346.37,219.26 L346.83,219.27 L347.28,219.27 L347.73,219.28 L348.19,219.28 L348.64,219.29 L349.09,219.29 L349.55,219.30 L350.00,219.30 L350.45,219.31 L350.91,219.32 L351.36,219.32 L351.82,219.33 L352.27,219.34 L352.72,219.35 L353.18,219.35 L353.63,219.36 L354.08,219.37 L354.54,219.38 L354.99,219.39 L355.45,219.39 L355.90,219.40 L356.35,219.41 L356.81,219.42 L357.26,219.43 L357.71,219.43 L358.17,219.44 L358.62,219.45 L359.08,219.46 L359.53,219.47 L359.98,219.47 L360.44,219.48 L360.89,219.49 L361.34,219.50 L361.80,219.51 L362.25,219.51 L362.70,219.52 L363.16,219.53 L363.61,219.54 L364.07,219.54 L364.52,219.55 L364.97,219.56 L365.43,219.56 L365.88,219.57 L366.33,219.58 L366.79,219.58 L367.24,219.59 L367.70,219.59 L368.15,219.60 L368.60,219.60 L369.06,219.61 L369.51,219.61 L369.96,219.62 L370.42,219.62 L370.87,219.63 L371.32,219.63 L371.78,219.63 L372.23,219.63 L372.69,219.64 L373.14,219.64 L373.59,219.64 L374.05,219.64 L374.50,219.64 L374.95,219.64 L375.41,219.64 L375.86,219.64 L376.32,219.64 L376.77,219.64 L377.22,219.64 L377.68,219.63 L378.13,219.63 L378.58,219.63 L379.04,219.63 L379.49,219.62 L379.94,219.62 L380.40,219.62 L380.85,219.61 L381.31,219.61 L381.76,219.61 L382.21,219.60 L382.67,219.60 L383.12,219.59 L383.57,219.59 L384.03,219.58 L384.48,219.58 L384.94,219.58 L385.39,219.57 L385.84,219.57 L386.30,219.56 L386.75,219.56 L387.20,219.56 L387.66,219.55 L388.11,219.55 L388.57,219.54 L389.02,219.54 L389.47,219.54 L389.93,219.53 L390.38,219.53 L390.83,219.53 L391.29,219.52 L391.74,219.52 L392.19,219.52 L392.65,219.52 L393.10,219.52 L393.56,219.52 L394.01,219.52 L394.46,219.52 L394.92,219.51 L395.37,219.52 L395.82,219.52 L396.28,219.52 L396.73,219.52 L397.19,219.52 L397.64,219.52 L398.09,219.53 L398.55,219.53 L399.00,219.53" fill="none" stroke="#00ff00" stroke-width="2" stroke-linejoin="round"/>
<rect x="36.5" y="0.5" width="362.5" height="224.0" fill="none" stroke="#111" stroke-width="1"/>
<path d="M36.50,224.5 v-3.6 M36.50,0.5 v3.6 M59.16,224.5 v-2.2 M59.16,0.5 v2.2 M81.81,224.5 v-2.2 M81.81,0.5 v2.2 M104.47,224.5 v-2.2 M104.47,0.5 v2.2 M127.12,224.5 v-3.6 M127.12,0.5 v3.6 M149.78,224.5 v-2.2 M149.78,0.5 v2.2 M172.43,224.5 v-2.2 M172.43,0.5 v2.2 M195.09,224.5 v-2.2 M195.09,0.5 v2.2 M217.74,224.5 v-3.6 M217.74,0.5 v3.6 M240.40,224.5 v-2.2 M240.40,0.5 v2.2 M263.05,224.5 v-2.2 M263.05,0.5 v2.2 M285.71,224.5 v-2.2 M285.71,0.5 v2.2 M308.36,224.5 v-3.6 M308.36,0.5 v3.6 M331.02,224.5 v-2.2 M331.02,0.5 v2.2 M353.67,224.5 v-2.2 M353.67,0.5 v2.2 M376.33,224.5 v-2.2 M376.33,0.5 v2.2 M398.98,224.5 v-3.6 M398.98,0.5 v3.6 M36.5,220.37 h3.6 M399.0,220.37 h-3.6 M36.5,207.50 h2.2 M399.0,207.50 h-2.2 M36.5,194.64 h2.2 M399.0,194.64 h-2.2 M36.5,181.77 h2.2 M399.0,181.77 h-2.2 M36.5,168.90 h3.6 M399.0,168.90 h-3.6 M36.5,156.04 h2.2 M399.0,156.04 h-2.2 M36.5,143.17 h2.2 M399.0,143.17 h-2.2 M36.5,130.30 h2.2 M399.0,130.30 h-2.2 M36.5,117.44 h3.6 M399.0,117.44 h-3.6 M36.5,104.57 h2.2 M399.0,104.57 h-2.2 M36.5,91.71 h2.2 M399.0,91.71 h-2.2 M36.5,78.84 h2.2 M399.0,78.84 h-2.2 M36.5,65.97 h3.6 M399.0,65.97 h-3.6 M36.5,53.11 h2.2 M399.0,53.11 h-2.2 M36.5,40.24 h2.2 M399.0,40.24 h-2.2 M36.5,27.37 h2.2 M399.0,27.37 h-2.2 M36.5,14.51 h3.6 M399.0,14.51 h-3.6 M36.5,1.64 h2.2 M399.0,1.64 h-2.2" fill="none" stroke="#000" stroke-width="0.9"/>
<g class="t" font-size="13" fill="#1a1a1a">
<text x="36.5" y="236.8" text-anchor="middle">0.0</text>
<text x="33.5" y="223.7" text-anchor="end">0.0</text>
<text x="127.1" y="236.8" text-anchor="middle">0.2</text>
<text x="33.5" y="172.2" text-anchor="end">0.2</text>
<text x="217.7" y="236.8" text-anchor="middle">0.4</text>
<text x="33.5" y="120.7" text-anchor="end">0.4</text>
<text x="308.4" y="236.8" text-anchor="middle">0.6</text>
<text x="33.5" y="69.3" text-anchor="end">0.6</text>
<text x="399.0" y="236.8" text-anchor="middle">0.8</text>
<text x="33.5" y="17.8" text-anchor="end">0.8</text>
<text x="49.5" y="22.5">(a)</text>
<text x="206" y="254.4" font-style="italic">ω<tspan dx="2.5">M</tspan></text>
<text transform="translate(9.5,128) rotate(-90)" font-style="italic" font-size="12">|ψ(ω)|</text>
<text x="224" y="30" fill="#ff0000">1st</text>
<text x="209.6" y="107.3" fill="#0000ff">3rd</text>
<text x="184.6" y="158.5" fill="#00ff00">5th</text>
</g></svg>
</body></html>
